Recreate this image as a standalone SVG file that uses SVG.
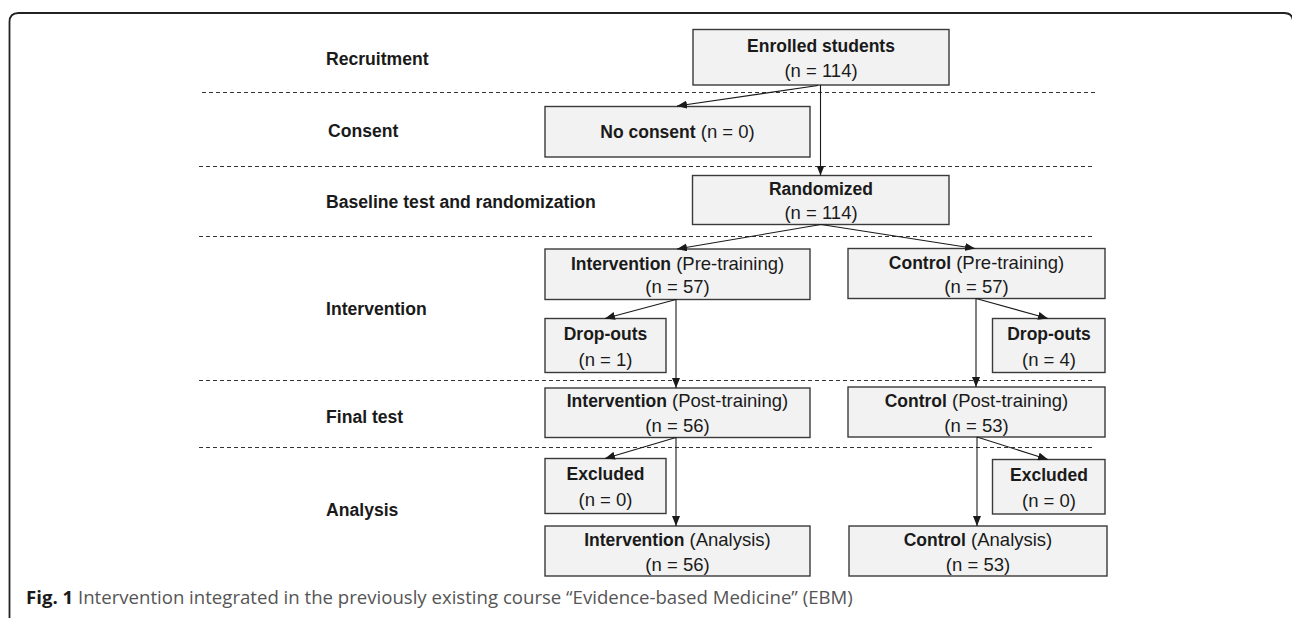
<svg xmlns="http://www.w3.org/2000/svg" width="1292" height="618" viewBox="0 0 1292 618">
<defs>
<marker id="arr" viewBox="0 0 10 8" refX="10" refY="4" markerWidth="10" markerHeight="8" markerUnits="userSpaceOnUse" orient="auto">
<path d="M0,0 L10,4 L0,8 Z" fill="#1a1a1a"/>
</marker>
<style>
.box{fill:#f2f2f2;stroke:#3a3a3a;stroke-width:1.4}
.t{font-family:"Liberation Sans",Arial,sans-serif;font-size:18.5px;fill:#1a1a1a;text-anchor:middle}
.b{font-weight:bold;font-size:17.5px}
.lab{font-family:"Liberation Sans",Arial,sans-serif;font-size:17.6px;font-weight:bold;fill:#1a1a1a}
.dash{stroke:#333;stroke-width:1;stroke-dasharray:4,3;fill:none}
.con{stroke:#1a1a1a;stroke-width:1.1;fill:none;marker-end:url(#arr)}
.cap{font-family:"Open Sans","Liberation Sans",sans-serif;font-size:18.6px;fill:#555}
</style>
</defs>
<rect width="1292" height="618" fill="#fff"/>
<path d="M9.5,618 L9.5,22 Q9.5,13 18.5,13 L1284,13 Q1293,13 1293,22 L1293,618" fill="none" stroke="#222" stroke-width="1.8"/>

<g id="separators">
<line class="dash" x1="202" y1="92.5" x2="1096" y2="92.5"/>
<line class="dash" x1="199" y1="166.5" x2="1093" y2="166.5"/>
<line class="dash" x1="199" y1="236.5" x2="1093" y2="236.5"/>
<line class="dash" x1="199" y1="380.5" x2="1093" y2="380.5"/>
<line class="dash" x1="199" y1="447.5" x2="1093" y2="447.5"/>
</g>

<g id="stage-labels">
<text class="lab" x="326" y="64.5">Recruitment</text>
<text class="lab" x="328" y="137">Consent</text>
<text class="lab" x="326" y="208">Baseline test and randomization</text>
<text class="lab" x="326" y="315">Intervention</text>
<text class="lab" x="326" y="423">Final test</text>
<text class="lab" x="326" y="516">Analysis</text>
</g>

<g id="n-enrolled">
<rect class="box" x="693" y="29.5" width="256" height="55.5"/>
<text class="t b" x="821" y="52">Enrolled students</text>
<text class="t" x="821" y="77">(n = 114)</text>
</g>
<g id="n-noconsent">
<rect class="box" x="545" y="106.5" width="265" height="50.5"/>
<text class="t" x="677.5" y="138"><tspan class="b">No consent</tspan> (n = 0)</text>
</g>
<g id="n-randomized">
<rect class="box" x="692.5" y="175.5" width="256.5" height="49"/>
<text class="t b" x="821" y="194.5">Randomized</text>
<text class="t" x="821" y="219">(n = 114)</text>
</g>
<g id="n-int-pre">
<rect class="box" x="545" y="249" width="265" height="50.5"/>
<text class="t" x="677.5" y="269.5"><tspan class="b">Intervention</tspan> (Pre-training)</text>
<text class="t" x="677.5" y="293">(n = 57)</text>
</g>
<g id="n-ctl-pre">
<rect class="box" x="848" y="248.5" width="257" height="50"/>
<text class="t" x="976.5" y="269"><tspan class="b">Control</tspan> (Pre-training)</text>
<text class="t" x="976.5" y="292.5">(n = 57)</text>
</g>
<g id="n-int-drop">
<rect class="box" x="545" y="318.5" width="121" height="54"/>
<text class="t b" x="605.5" y="339.5">Drop-outs</text>
<text class="t" x="605.5" y="365.5">(n = 1)</text>
</g>
<g id="n-ctl-drop">
<rect class="box" x="992.5" y="318.5" width="112.5" height="54"/>
<text class="t b" x="1049" y="339.5">Drop-outs</text>
<text class="t" x="1049" y="365.5">(n = 4)</text>
</g>
<g id="n-int-post">
<rect class="box" x="545" y="388" width="265" height="49.5"/>
<text class="t" x="677.5" y="407"><tspan class="b">Intervention</tspan> (Post-training)</text>
<text class="t" x="677.5" y="432">(n = 56)</text>
</g>
<g id="n-ctl-post">
<rect class="box" x="848" y="387" width="257" height="50"/>
<text class="t" x="976.5" y="406.5"><tspan class="b">Control</tspan> (Post-training)</text>
<text class="t" x="976.5" y="431.5">(n = 53)</text>
</g>
<g id="n-int-excl">
<rect class="box" x="545" y="458.5" width="121" height="55"/>
<text class="t b" x="605.5" y="480">Excluded</text>
<text class="t" x="605.5" y="506">(n = 0)</text>
</g>
<g id="n-ctl-excl">
<rect class="box" x="992.5" y="459.5" width="112.5" height="54.5"/>
<text class="t b" x="1049" y="481">Excluded</text>
<text class="t" x="1049" y="507">(n = 0)</text>
</g>
<g id="n-int-ana">
<rect class="box" x="545" y="526" width="265" height="50"/>
<text class="t" x="677.5" y="545.5"><tspan class="b">Intervention</tspan> (Analysis)</text>
<text class="t" x="677.5" y="570.5">(n = 56)</text>
</g>
<g id="n-ctl-ana">
<rect class="box" x="849" y="526" width="258" height="50"/>
<text class="t" x="978" y="545.5"><tspan class="b">Control</tspan> (Analysis)</text>
<text class="t" x="978" y="570.5">(n = 53)</text>
</g>

<g id="connectors">
<path class="con" d="M820.5,85 L820.5,175.5"/>
<path class="con" d="M818,85.5 L677,106"/>
<path class="con" d="M821,224.5 L677,249"/>
<path class="con" d="M821,224.5 L975,248.5"/>
<path class="con" d="M676,299.5 L676,388"/>
<path class="con" d="M676,299.5 L605,318.5"/>
<path class="con" d="M976,298.5 L976,387"/>
<path class="con" d="M976,298.5 L1048,318.5"/>
<path class="con" d="M676,437.5 L676,526"/>
<path class="con" d="M676,437.5 L605,458.5"/>
<path class="con" d="M977,437 L977,526"/>
<path class="con" d="M977,437 L1048,459.5"/>
</g>

<text class="cap" x="26" y="604"><tspan font-weight="bold" fill="#1a1a1a">Fig. 1</tspan> Intervention integrated in the previously existing course “Evidence-based Medicine” (EBM)</text>
</svg>
